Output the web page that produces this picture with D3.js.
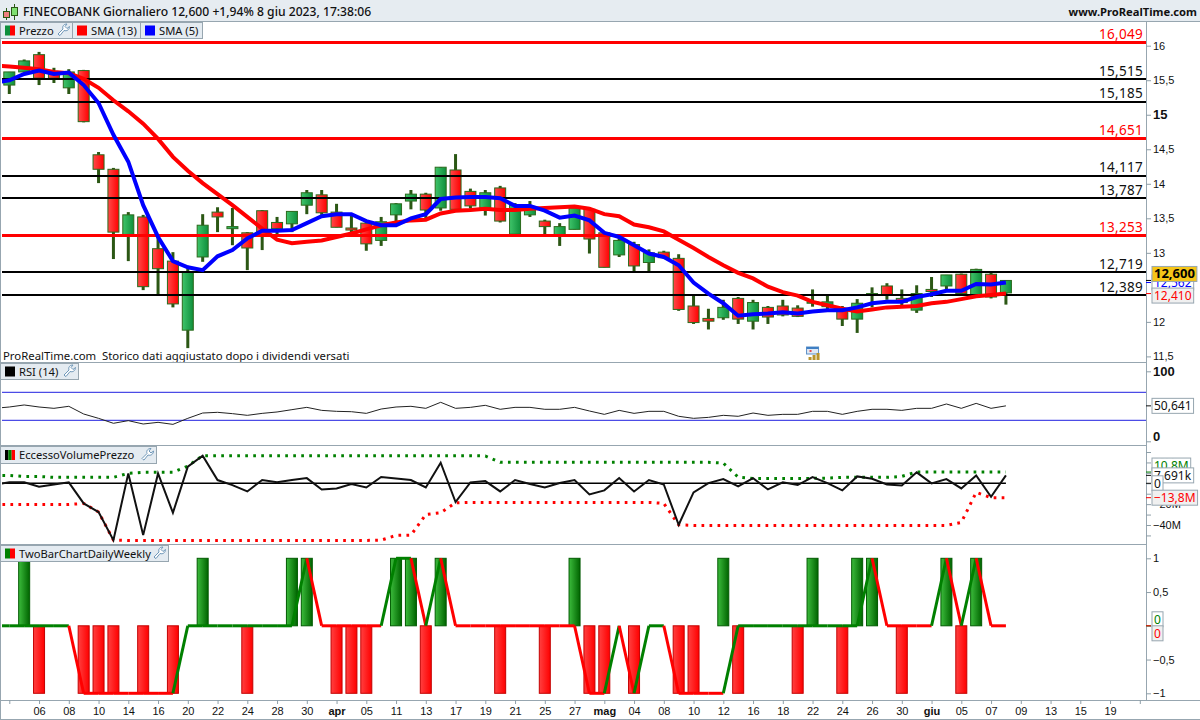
<!DOCTYPE html>
<html>
<head>
<meta charset="utf-8">
<title>FINECOBANK</title>
<script src="https://cdnjs.cloudflare.com/ajax/libs/d3/7.8.5/d3.min.js"></script>
<style>
  body { margin: 0; background: #fff; }
  svg { display: block; font-family: "Noto Sans", sans-serif; }
  .axis text { font-size: 11px; fill: #111; }
  .axis line { stroke: #8e9ea8; }
  .axis path { display: none; }
</style>
</head>
<body>
<div id="chart"></div>
<script>
// date labels, one every two bars starting at bar 2
const dateLabels = ["06","08","10","14","16","20","22","24","28","30","apr","05","11","13","17","19","21","25","27","mag","04","08","10","12","16","18","22","24","26","30","giu","05","07","09","13","15","19"];
const boldDates = ["apr", "mag", "giu"];

// candles, one per bar
const opens  = [15.43,15.62,15.87,15.62,15.39,15.64,14.42,14.21,13.26,13.52,13.06,12.88,11.88,12.94,13.59,13.35,13.29,13.61,13.44,13.42,13.69,13.84,13.59,13.36,13.43,13.18,13.55,13.75,13.85,13.65,14.20,13.89,13.65,13.94,13.27,13.55,13.46,13.26,13.34,13.63,13.29,12.97,13.12,12.86,13.01,12.92,12.23,12.05,12.06,12.34,12.01,12.21,12.23,12.20,12.27,12.22,12.19,12.04,12.39,12.52,12.34,12.17,12.47,12.52,12.69,12.39,12.69,12.42];
const highs  = [15.62,15.80,15.91,15.68,15.66,15.65,14.46,14.23,13.59,13.55,13.26,13.01,12.81,13.56,13.66,13.65,13.30,13.62,13.52,13.60,13.91,13.91,13.71,13.55,13.45,13.52,13.72,13.91,13.87,14.24,14.43,13.93,13.91,13.97,13.72,13.75,13.48,13.43,13.66,13.66,13.29,13.23,13.16,13.05,13.03,12.98,12.38,12.19,12.32,12.36,12.32,12.23,12.32,12.24,12.47,12.38,12.23,12.33,12.50,12.56,12.47,12.53,12.65,12.68,12.70,12.77,12.71,12.60];
const lows   = [15.30,15.62,15.43,15.46,15.30,14.89,14.01,12.91,12.88,12.46,12.40,12.21,11.62,12.87,13.30,13.11,12.75,13.04,13.24,13.30,13.56,13.55,13.37,13.30,13.03,13.10,13.45,13.63,13.50,13.61,13.63,13.64,13.54,13.44,13.27,13.52,13.26,13.10,13.34,12.99,12.79,12.94,12.73,12.73,12.92,12.16,11.97,11.89,12.03,11.97,11.89,11.97,12.08,12.07,12.22,12.17,11.94,11.84,12.21,12.32,12.24,12.13,12.36,12.46,12.40,12.38,12.34,12.25];
const closes = [15.62,15.78,15.53,15.53,15.62,14.90,14.21,13.30,13.55,12.51,12.77,12.26,12.72,13.40,13.52,13.38,13.07,13.24,13.35,13.60,13.87,13.58,13.37,13.33,13.13,13.45,13.71,13.85,13.62,14.24,13.63,13.68,13.87,13.46,13.69,13.65,13.38,13.38,13.65,13.20,12.79,13.18,12.81,13.00,12.93,12.18,11.99,12.01,12.21,12.04,12.28,12.07,12.10,12.08,12.29,12.29,12.04,12.27,12.41,12.39,12.28,12.41,12.44,12.68,12.41,12.76,12.36,12.60];

// line series start one bar before the first candle (cut by the pane edge)
const sma13 = [15.71,15.70,15.68,15.66,15.62,15.60,15.52,15.39,15.21,15.05,14.87,14.65,14.39,14.19,14.01,13.85,13.69,13.52,13.35,13.19,13.14,13.16,13.18,13.23,13.28,13.34,13.40,13.44,13.47,13.48,13.57,13.61,13.62,13.64,13.62,13.62,13.64,13.65,13.66,13.67,13.64,13.56,13.53,13.41,13.37,13.31,13.19,13.07,12.94,12.82,12.71,12.63,12.51,12.43,12.38,12.29,12.24,12.19,12.15,12.18,12.21,12.22,12.23,12.27,12.29,12.33,12.37,12.39,12.41];
const sma5  = [15.46,15.50,15.59,15.64,15.59,15.61,15.43,15.17,14.71,14.32,13.69,13.23,12.88,12.79,12.75,12.95,13.04,13.21,13.32,13.32,13.33,13.43,13.53,13.56,13.56,13.46,13.40,13.40,13.50,13.56,13.78,13.80,13.81,13.81,13.79,13.68,13.68,13.61,13.51,13.54,13.47,13.29,13.23,13.11,12.99,12.94,12.82,12.57,12.41,12.27,12.09,12.11,12.12,12.14,12.12,12.15,12.17,12.17,12.21,12.27,12.29,12.29,12.36,12.40,12.45,12.45,12.55,12.54,12.57];
const rsi14 = [47.1,49.0,51.9,49.0,47.1,50.0,39.0,32.8,25.7,29.5,24.7,27.1,24.2,32.8,40.4,41.4,39.5,37.1,39.9,41.9,45.2,48.5,44.2,42.8,42.3,39.9,46.1,49.0,50.0,47.1,55.7,47.1,48.5,51.4,45.7,48.5,48.5,45.7,45.7,48.5,43.3,38.5,44.2,39.9,42.8,42.8,35.7,32.8,34.2,37.1,35.7,40.4,37.1,38.5,38.5,42.8,42.8,38.5,42.8,45.7,45.7,44.2,47.1,47.1,53.3,47.1,54.2,47.1,50.64];

// EccessoVolumePrezzo, in millions
const evpLine  = [-1.1,0.9,0.9,-3.3,-1.1,0.9,-19.3,-27.6,-54.5,9.5,-49.7,9.5,-28.3,15.9,26.5,3.1,-1.7,-7.8,3.1,0.9,3.1,5.0,-5.9,-4.9,-0.7,-4.0,6.0,4.7,3.1,-4.0,19.7,-18.0,0.9,2.1,-7.8,3.1,-0.7,-4.0,0.2,3.1,-10.7,-6.8,5.0,-7.8,3.1,-1.1,-39.8,-8.7,0.2,4.0,-3.0,5.0,-5.9,0.9,-1.7,6.0,0.2,-6.8,6.6,4.4,-1.1,-2.0,10.5,-0.1,4.0,-4.9,7.6,-12.9,7.6];
const evpUpper = [7.6,7.6,6.6,6.6,5.7,5.7,5.7,5.7,5.7,9.5,10.5,10.5,10.5,16.5,26.5,26.5,26.5,26.5,26.5,26.5,26.5,26.5,26.5,26.5,26.5,26.5,26.5,26.5,26.5,26.5,26.5,26.5,26.5,26.2,20.1,20.1,20.1,20.1,20.1,20.1,20.1,20.1,20.1,20.1,20.1,20.1,20.1,20.1,20.1,19.4,5.9,4.7,4.7,4.7,4.7,4.7,5.0,5.7,5.7,5.7,5.7,6.6,10.8,10.8,10.8,10.8,10.8,10.8,10.8];
const evpLower = [-20.3,-20.3,-20.3,-20.3,-20.3,-20.3,-19.3,-27.6,-54.5,-54.8,-54.8,-54.8,-54.8,-54.8,-54.8,-54.8,-54.8,-54.8,-54.8,-54.8,-54.8,-54.8,-54.8,-54.8,-54.8,-54.8,-54.5,-50.0,-49.7,-29.9,-28.3,-18.7,-18.3,-18.3,-18.3,-18.3,-18.3,-18.3,-18.3,-18.3,-18.3,-18.3,-18.3,-18.3,-18.3,-19.3,-39.8,-40.4,-40.4,-40.4,-40.4,-40.4,-40.4,-40.4,-40.4,-40.4,-40.4,-40.4,-40.4,-40.4,-40.4,-40.4,-40.4,-40.4,-40.4,-37.5,-8.7,-13.8,-13.8];

// TwoBarChartDailyWeekly
const twoBarHist = [0,1,-1,0,0,-1,-1,-1,0,-1,0,-1,0,1,0,0,-1,0,0,1,1,0,-1,-1,-1,0,1,1,-1,1,0,0,0,-1,0,0,-1,0,1,-1,-1,0,-1,0,0,-1,-1,0,1,-1,0,0,0,-1,1,0,-1,1,1,0,-1,0,0,1,-1,1,0,0];
const twoBarLine = [0,0,0,0,0,0,-1,-1,-1,-1,-1,-1,-1,0,0,0,0,0,0,0,0,1,0,0,0,0,0,1,1,0,1,0,0,0,0,0,0,0,0,0,-1,-1,0,-1,0,0,-1,-1,-1,-1,0,0,0,0,0,0,0,0,0,1,0,0,0,0,1,0,1,0,0];

// horizontal support / resistance levels
const levelValues = [16.049,15.515,15.185,14.651,14.117,13.787,13.253,12.719,12.389];
const levelLabels = ["16,049","15,515","15,185","14,651","14,117","13,787","13,253","12,719","12,389"];
const levelIsRed  = [true,false,false,true,false,false,true,false,false];

const priceTicks = [16,15.5,15,14.5,14,13.5,13,12,11.5];
const rsiTicks = [100,0];
const rsiBands = [70,30];
const evpTicks = [30,20,10,0,-10,-20,-30,-40,-50];
const twoBarTicks = [1,0.5,0,-0.5,-1];

const W = 1200, H = 720;
const plotLeft = 2, plotRight = 1146;
const borderCol = "#97a6b0";

const svg = d3.select("#chart").append("svg").attr("width", W).attr("height", H);
const defs = svg.append("defs");

function gradient(id, from, to) {
    const g = defs.append("linearGradient").attr("id", id);
    g.append("stop").attr("offset", "0%").attr("stop-color", from);
    g.append("stop").attr("offset", "100%").attr("stop-color", to);
}
gradient("candleRed", "#ff4a4a", "#ff0000");
gradient("candleGreen", "#3fc46a", "#0f8f3c");
gradient("barRed", "#ff4040", "#ff0000");
gradient("barGreen", "#3cbc3c", "#006400");

// bar index -> x, shared by all panes
const x = d3.scaleLinear().domain([0, 76]).range([9.3, 1139.8]);
const barW = 12;

const y = d3.scaleLinear().domain([11.5, 16]).range([356.4, 45.7]);
const yRsi = d3.scaleLinear().domain([0, 100]).range([441.3, 371.3]);
const yEvp = d3.scaleLinear().domain([-40, 0]).range([525, 483.3]);
const yTwo = d3.scaleLinear().domain([-1, 1]).range([693.3, 558.3]);

function makePane(id, top, bottom) {
    defs.append("clipPath").attr("id", id).append("rect")
        .attr("x", plotLeft).attr("y", top)
        .attr("width", plotRight - plotLeft).attr("height", bottom - top);
    return svg.append("g").attr("clip-path", `url(#${id})`);
}

const toComma = d => String(d).replace(".", ",").replace("-", "\u2212");

// series arrays start at bar -1
function drawLine(pane, values, yScale, color, width, dash) {
    const line = d3.line().x((d, i) => x(i - 1)).y(d => yScale(d));
    const p = pane.append("path").datum(values)
        .attr("d", line).attr("fill", "none")
        .attr("stroke", color).attr("stroke-width", width);
    if (dash) p.attr("stroke-dasharray", dash);
    return p;
}

// ---------- price pane ----------
const pricePane = makePane("clipPrice", 38, 362);
const candles = d3.range(opens.length).map(i => ({
    i, o: opens[i], h: highs[i], l: lows[i], c: closes[i], up: closes[i] >= opens[i]
}));

pricePane.selectAll(".wick").data(candles).join("line")
    .attr("class", "wick")
    .attr("x1", d => x(d.i)).attr("x2", d => x(d.i))
    .attr("y1", d => y(d.h)).attr("y2", d => y(d.l))
    .attr("stroke", "#2b5714").attr("stroke-width", 3);

pricePane.selectAll(".body").data(candles).join("rect")
    .attr("class", "body")
    .attr("x", d => x(d.i) - barW / 2 + 0.5)
    .attr("y", d => y(Math.max(d.o, d.c)))
    .attr("width", barW - 1)
    .attr("height", d => Math.max(1, Math.abs(y(d.o) - y(d.c))))
    .attr("fill", d => d.up ? "url(#candleGreen)" : "url(#candleRed)")
    .attr("stroke", "#2b6a1c").attr("stroke-width", 1);

pricePane.selectAll(".level").data(levelValues).join("line")
    .attr("class", "level")
    .attr("x1", plotLeft).attr("x2", plotRight)
    .attr("y1", d => y(d)).attr("y2", d => y(d))
    .attr("stroke", (d, i) => levelIsRed[i] ? "#ff0000" : "#000")
    .attr("stroke-width", (d, i) => levelIsRed[i] ? 3 : 2)
    .attr("shape-rendering", "crispEdges");

drawLine(pricePane, sma13, y, "#ff0000", 4);
drawLine(pricePane, sma5, y, "#0000ff", 4);

svg.selectAll(".levelLabel").data(levelValues).join("text")
    .attr("class", "levelLabel")
    .attr("x", 1143).attr("y", d => y(d) - 3.5)
    .attr("text-anchor", "end").style("font-size", "13.5px").style("letter-spacing", "0.3px")
    .attr("fill", (d, i) => levelIsRed[i] ? "#ff0000" : "#111")
    .text((d, i) => levelLabels[i]);

svg.append("text").attr("x", 3).attr("y", 359.5)
    .style("font-size", "11.35px").attr("fill", "#111")
    .attr("xml:space", "preserve")
    .text("ProRealTime.com  Storico dati aggiustato dopo i dividendi versati");

// ---------- RSI pane ----------
const rsiPane = makePane("clipRsi", 362, 445);
rsiPane.selectAll(".band").data(rsiBands).join("line")
    .attr("class", "band")
    .attr("x1", plotLeft).attr("x2", plotRight)
    .attr("y1", d => yRsi(d)).attr("y2", d => yRsi(d))
    .attr("stroke", "#2020e0").attr("stroke-width", 1);
drawLine(rsiPane, rsi14, yRsi, "#222", 1);

// ---------- EccessoVolumePrezzo pane ----------
const evpPane = makePane("clipEvp", 445, 544);
evpPane.append("line")
    .attr("x1", plotLeft).attr("x2", x(opens.length - 1))
    .attr("y1", yEvp(0)).attr("y2", yEvp(0))
    .attr("stroke", "#000").attr("stroke-width", 1.5);
drawLine(evpPane, evpUpper, yEvp, "#008000", 3, "2.7 5.3");
drawLine(evpPane, evpLower, yEvp, "#ff0000", 3, "2.7 5.3");
drawLine(evpPane, evpLine, yEvp, "#111", 2);

// ---------- TwoBarChart pane ----------
const twoPane = makePane("clipTwo", 544, 700);
const histBars = twoBarHist.map((v, i) => ({ i, v })).filter(d => d.v !== 0);
twoPane.selectAll(".hist").data(histBars).join("rect")
    .attr("class", "hist")
    .attr("x", d => x(d.i) - barW / 2 + 0.5)
    .attr("y", d => d.v > 0 ? yTwo(d.v) : yTwo(0))
    .attr("width", barW - 1)
    .attr("height", d => Math.abs(yTwo(d.v) - yTwo(0)))
    .attr("fill", d => d.v > 0 ? "url(#barGreen)" : "url(#barRed)")
    .attr("stroke", d => d.v > 0 ? "#005a00" : "#c40000");

// colour of each step: rising is green, falling red, flat keeps the last colour
let lastCol = "#008000";
const twoSegments = d3.pairs(twoBarLine).map(([a, b], i) => {
    if (b > a) lastCol = "#008000";
    if (b < a) lastCol = "#ff0000";
    return { a, b, i: i - 1, col: lastCol };
});
twoPane.selectAll(".seg").data(twoSegments).join("line")
    .attr("class", "seg")
    .attr("x1", d => x(d.i)).attr("x2", d => x(d.i + 1))
    .attr("y1", d => yTwo(d.a)).attr("y2", d => yTwo(d.b))
    .attr("stroke", d => d.col).attr("stroke-width", 3);

// ---------- frame ----------
const sepLines = [362, 445, 544, 700, 719];
svg.selectAll(".sep").data(sepLines).join("line")
    .attr("class", "sep")
    .attr("x1", 0).attr("y1", d => d + 0.5)
    .attr("x2", (d, i) => i < 3 ? plotRight : W).attr("y2", d => d + 0.5)
    .attr("stroke", borderCol);
svg.append("line").attr("x1", 0.5).attr("x2", 0.5).attr("y1", 21).attr("y2", 720).attr("stroke", borderCol);
svg.append("line").attr("x1", plotRight + 0.5).attr("x2", plotRight + 0.5).attr("y1", 21).attr("y2", 700).attr("stroke", borderCol);

// ---------- axes ----------
function rightAxis(scale, ticks, fmt) {
    return svg.append("g").attr("class", "axis")
        .attr("transform", `translate(${plotRight},0)`)
        .call(d3.axisRight(scale).tickValues(ticks).tickSize(5).tickPadding(2).tickFormat(fmt));
}
rightAxis(y, priceTicks, toComma).selectAll("text")
    .filter(d => d === 15).style("font-weight", "700").style("font-size", "13px");
rightAxis(yRsi, rsiTicks, toComma).selectAll("text")
    .style("font-weight", "700").style("font-size", "13px")
    .attr("dy", d => d === 0 ? "-0.1em" : "0.32em");
rightAxis(yEvp, evpTicks, d => (d === 20 || d === -20 || d === -40) ? toComma(d) + "M" : "");
rightAxis(yTwo, twoBarTicks, d => d === 0 ? "" : toComma(d));

const dateAxis = d3.axisBottom(x)
    .tickValues(d3.range(0, 77, 2))
    .tickSize(4).tickPadding(3)
    .tickFormat(d => d === 0 || d === 76 ? "" : dateLabels[d / 2 - 1]);
const xAxisG = svg.append("g").attr("class", "axis")
    .attr("transform", "translate(0,700)").call(dateAxis);
xAxisG.selectAll("text")
    .style("font-weight", d => boldDates.includes(dateLabels[d / 2 - 1]) ? "700" : "400");

// value tags on the right scale
function tag(value, scale, text, color, bg, opts = {}) {
    const yp = scale(value) + (opts.shift || 0);
    const g = svg.append("g");
    svg.append("line").attr("x1", plotRight).attr("x2", plotRight + 5)
        .attr("y1", scale(value)).attr("y2", scale(value)).attr("stroke", color);
    const t = g.append("text").attr("x", 1154).attr("y", yp + 4.5)
        .style("font-size", opts.size || "12px").style("font-weight", opts.weight || "400")
        .attr("fill", color).text(text);
    const b = t.node().getBBox();
    g.insert("rect", "text").attr("x", 1152).attr("y", yp - 7.5)
        .attr("width", b.width + 4).attr("height", 15)
        .attr("fill", bg).attr("stroke", borderCol);
}
tag(12.57, y, "12,562", "#0000ff", "#fff");
tag(12.60, y, "12,600", "#000", "#f5c518", { weight: "700", size: "13px", shift: -6.5 });
tag(12.41, y, "12,410", "#ff0000", "#f0f0f0", { shift: 2 });
tag(50.641, yRsi, "50,641", "#111", "#fff");
tag(10.8, yEvp, "10,8M", "#008000", "#fff", { shift: -6.5 });
tag(7.6, yEvp, "7,691k", "#111", "#fff");
tag(0, yEvp, "0", "#111", "#fff");
tag(-13.8, yEvp, "\u221213,8M", "#ff0000", "#f0f0f0");
tag(0, yTwo, "0", "#008000", "#fff", { shift: -6.5 });
tag(0, yTwo, "0", "#ff0000", "#f0f0f0", { shift: 7.5 });

// ---------- title bar ----------
svg.append("rect").attr("x", 0).attr("y", 0).attr("width", W).attr("height", 21).attr("fill", "#e6ecf1");
svg.append("line").attr("x1", 0).attr("x2", W).attr("y1", 21.5).attr("y2", 21.5).attr("stroke", borderCol);
svg.append("text").attr("x", 23).attr("y", 16)
    .style("font-size", "12.15px").style("font-weight", "500").attr("fill", "#111")
    .text("FINECOBANK Giornaliero 12,600 +1,94% 8 giu 2023, 17:38:06");
svg.append("text").attr("x", 1197).attr("y", 16).attr("text-anchor", "end")
    .style("font-size", "11.2px").style("font-weight", "700").attr("fill", "#111")
    .text("www.ProRealTime.com");

// small candle icon
const icon = svg.append("g").attr("stroke", "#2b5714");
icon.append("line").attr("x1", 6.5).attr("x2", 6.5).attr("y1", 8).attr("y2", 20);
icon.append("rect").attr("x", 3.5).attr("y", 11.5).attr("width", 6).attr("height", 6).attr("fill", "#f08080");
icon.append("line").attr("x1", 14.5).attr("x2", 14.5).attr("y1", 4).attr("y2", 20);
icon.append("rect").attr("x", 11.5).attr("y", 7.5).attr("width", 6).attr("height", 8).attr("fill", "#80e070");

// ---------- legend chips ----------
function wrench(g, cx, cy) {
    g.append("path")
        .attr("transform", `translate(${cx},${cy})`)
        .attr("d", "M-5,5 L-6,4 L-1,-1 C-2,-4 0,-6 3,-6 L1,-3.5 L3,-1.5 L5.5,-3.5 C5.5,-0.5 3,1.5 0,0.5 L-4,5.5 Z")
        .attr("fill", "#fff").attr("stroke", "#6f97b8").attr("stroke-width", 1);
}
function chip(x0, x1, y0, y1, label, colors, hasWrench) {
    const g = svg.append("g");
    g.append("rect").attr("x", x0 + 0.5).attr("y", y0 + 0.5)
        .attr("width", x1 - x0).attr("height", y1 - y0)
        .attr("fill", "#e4ebf1").attr("stroke", borderCol);
    const sw = 10 / colors.length;
    colors.forEach((c, i) => {
        g.append("rect").attr("x", x0 + 5 + i * sw).attr("y", (y0 + y1) / 2 - 4.5)
            .attr("width", sw).attr("height", 10).attr("fill", c);
    });
    g.append("text").attr("x", x0 + 19).attr("y", (y0 + y1) / 2 + 4.5)
        .style("font-size", "11.2px").attr("fill", "#111").text(label);
    if (hasWrench) wrench(g, x1 - 8, (y0 + y1) / 2);
}
chip(0, 72, 22, 38, "Prezzo", ["#0f8f3c", "#ff0000"], true);
chip(72, 140, 22, 38, "SMA (13)", ["#ff0000"], false);
chip(140, 202, 22, 38, "SMA (5)", ["#0000ff"], false);
chip(0, 78, 363, 379, "RSI (14)", ["#000"], true);
chip(0, 156, 446, 463, "EccessoVolumePrezzo", ["#000", "#008000", "#ff0000"], true);
chip(0, 168, 545, 561, "TwoBarChartDailyWeekly", ["#008000", "#ff0000"], true);

// calendar marker under the candles
const cal = svg.append("g").attr("transform", `translate(${x(54) - 6},347)`);
cal.append("rect").attr("width", 12).attr("height", 7).attr("fill", "#dfe9f5").attr("stroke", "#5b8fc7");
cal.append("rect").attr("width", 12).attr("height", 2).attr("fill", "#3f7fc4");
cal.append("rect").attr("x", 3).attr("y", 3).attr("width", 2).attr("height", 2).attr("fill", "#e05050");
cal.append("rect").attr("x", 2).attr("y", 10).attr("width", 3).attr("height", 3).attr("fill", "#b8942c");
cal.append("rect").attr("x", 6).attr("y", 8).attr("width", 3).attr("height", 5).attr("fill", "#b8942c");
cal.append("rect").attr("x", 10).attr("y", 6).attr("width", 3).attr("height", 7).attr("fill", "#b8942c");
</script>
</body>
</html>
